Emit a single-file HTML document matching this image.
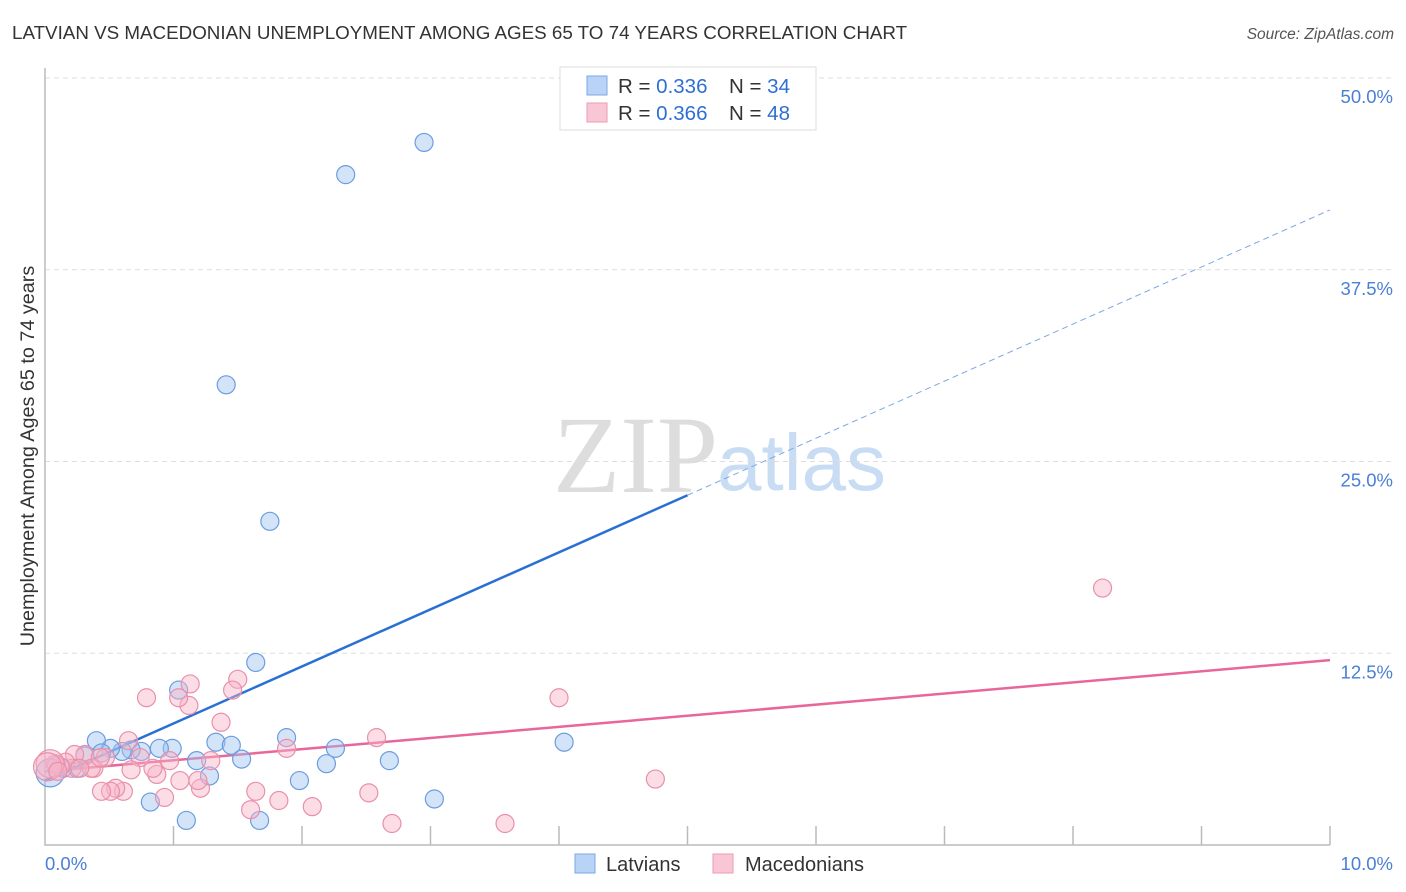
<!DOCTYPE html>
<html><head><meta charset="utf-8"><style>
body{margin:0;background:#fff;font-family:"Liberation Sans",sans-serif}
svg{display:block}
</style></head><body>
<svg id="chart" width="1406" height="892">
<text x="12" y="39" font-size="18.8" fill="#333">LATVIAN VS MACEDONIAN UNEMPLOYMENT AMONG AGES 65 TO 74 YEARS CORRELATION CHART</text>
<text x="1394" y="39" font-size="15.5" fill="#555" font-style="italic" text-anchor="end">Source: ZipAtlas.com</text>
<text transform="translate(34,456) rotate(-90)" font-size="19.8" fill="#333" text-anchor="middle">Unemployment Among Ages 65 to 74 years</text>
<g>
<text x="553" y="492" font-size="110" fill="#ddd" font-family="Liberation Serif,serif">ZIP</text>
<text x="717" y="490" font-size="80" fill="#c8dcf4">atlas</text>
</g>
<g id="grid"></g><g id="axes"></g><g id="lines"></g><g id="pts"></g>
<g>
<rect x="560" y="67" width="256" height="63" fill="#fff" stroke="#ddd"/>
<rect x="587" y="76" width="20" height="19" fill="#b8d3f5" stroke="#7aa8e6"/>
<rect x="587" y="103" width="20" height="19" fill="#f9c6d6" stroke="#ee9ab6"/>
<text x="618" y="93" font-size="20.5" fill="#333">R = <tspan fill="#2f6fd3">0.336</tspan></text>
<text x="729" y="93" font-size="20.5" fill="#333">N = <tspan fill="#2f6fd3">34</tspan></text>
<text x="618" y="120" font-size="20.5" fill="#333">R = <tspan fill="#2f6fd3">0.366</tspan></text>
<text x="729" y="120" font-size="20.5" fill="#333">N = <tspan fill="#2f6fd3">48</tspan></text>
</g>
<g>
<rect x="575" y="854" width="20" height="19" fill="#b8d3f5" stroke="#7aa8e6"/>
<text x="606" y="871" font-size="20" fill="#333">Latvians</text>
<rect x="713" y="854" width="20" height="19" fill="#f9c6d6" stroke="#ee9ab6"/>
<text x="745" y="871" font-size="20" fill="#333">Macedonians</text>
</g>
</svg>
<script>
const yTicks=[12.5,25,37.5,50];
const yTickLabels=["12.5%","25.0%","37.5%","50.0%"];
const xTickVals=[0,1,2,3,4,5,6,7,8,9,10];
const latX=[2.95,2.34,1.41,1.75,1.64,1.04,4.04,1.88,2.26,2.68,1.33,1.45,1.53,2.19,1.98,3.03,1.28,1.18,0.99,0.89,0.75,0.67,0.60,0.51,0.40,0.31,0.25,0.14,0.09,0.04,0.82,1.10,1.67,0.44];
const latY=[45.8,43.7,30.0,21.1,11.9,10.1,6.7,7.0,6.3,5.5,6.7,6.5,5.6,5.3,4.2,3.0,4.5,5.5,6.3,6.3,6.1,6.2,6.1,6.3,6.8,5.8,5.0,5.0,5.2,4.7,2.8,1.6,1.6,6.0];
const macX=[8.23,4.0,4.75,3.58,2.70,2.58,2.52,2.08,1.88,1.82,1.64,1.60,1.50,1.46,1.37,1.29,1.21,1.19,1.12,1.13,1.04,1.05,0.93,0.87,0.84,0.97,0.79,0.74,0.67,0.65,0.61,0.55,0.51,0.44,0.47,0.38,0.31,0.36,0.23,0.21,0.16,0.12,0.08,0.04,0.02,0.10,0.27,0.43];
const macY=[16.75,9.6,4.3,1.4,1.4,7.0,3.4,2.5,6.3,2.9,3.5,2.3,10.8,10.1,8.0,5.5,3.7,4.2,9.1,10.5,9.6,4.2,3.1,4.6,5.0,5.5,9.6,5.7,4.9,6.8,3.5,3.7,3.5,3.5,5.7,5.0,5.9,5.0,5.9,5.0,5.4,5.1,5.3,5.3,5.1,4.8,5.0,5.7];
const latLine=[4.2,41.4];
const macLine=[4.8,12.05];
const latSolidEnd=5;

const NS="http://www.w3.org/2000/svg";
const sx=v=>45+v*128.5;
const sy=v=>845-v*15.34;
function mk(tag,attrs,parent){const e=document.createElementNS(NS,tag);for(const k in attrs)e.setAttribute(k,attrs[k]);parent.appendChild(e);return e;}
const grid=document.getElementById('grid'),axes=document.getElementById('axes'),lines=document.getElementById('lines'),pts=document.getElementById('pts');
yTicks.forEach((t,i)=>{
 const l=mk('line',{x1:45,x2:1393,y1:sy(t),y2:sy(t),stroke:'#ddd','stroke-dasharray':'5,4'},grid);
 
 
 const tx=mk('text',{x:1393,y:sy(t)+25,'font-size':18.5,fill:'#4a7fd6','text-anchor':'end'},grid);
 tx.textContent=yTickLabels[i];
 
 
});
const ax=mk('path',{d:'M45,68V845H1330',stroke:'#bbb',fill:'none','stroke-width':1.5},axes);


xTickVals.forEach(v=>{if(v===0)return;
 const t=mk('line',{x1:sx(v),x2:sx(v),y1:826,y2:845,stroke:'#bbb','stroke-width':1.5},axes);
 
 
});
const x0=mk('text',{x:45,y:870,'font-size':18.5,fill:'#4a7fd6'},axes);x0.textContent='0.0%';


const x1=mk('text',{x:1393,y:870,'font-size':18.5,fill:'#4a7fd6','text-anchor':'end'},axes);x1.textContent='10.0%';


function drawPts(X,Y,fill,stroke,name){
 X.forEach((x,i)=>{const r=(x<0.06)?14:9;
  const c=mk('circle',{cx:sx(x),cy:sy(Y[i]),r:r,fill:fill,stroke:stroke,'stroke-width':1.2},pts);
  
  
 });
}
drawPts(latX,latY,'rgba(160,196,240,0.45)','#6a9de0','latvian-point');
drawPts(macX,macY,'rgba(248,180,200,0.45)','#e890aa','macedonian-point');
const ly=x=>latLine[0]+(latLine[1]-latLine[0])*x/10;
const bl=mk('line',{x1:sx(0),y1:sy(ly(0)),x2:sx(latSolidEnd),y2:sy(ly(latSolidEnd)),stroke:'#2a6fd6','stroke-width':2.5},lines);


const bd=mk('line',{x1:sx(latSolidEnd),y1:sy(ly(latSolidEnd)),x2:sx(10),y2:sy(ly(10)),stroke:'#7aa8e6','stroke-width':1,'stroke-dasharray':'6,4'},lines);


const pl=mk('line',{x1:sx(0),y1:sy(macLine[0]),x2:sx(10),y2:sy(macLine[1]),stroke:'#e8679a','stroke-width':2.5},lines);


</script>
</body></html>
